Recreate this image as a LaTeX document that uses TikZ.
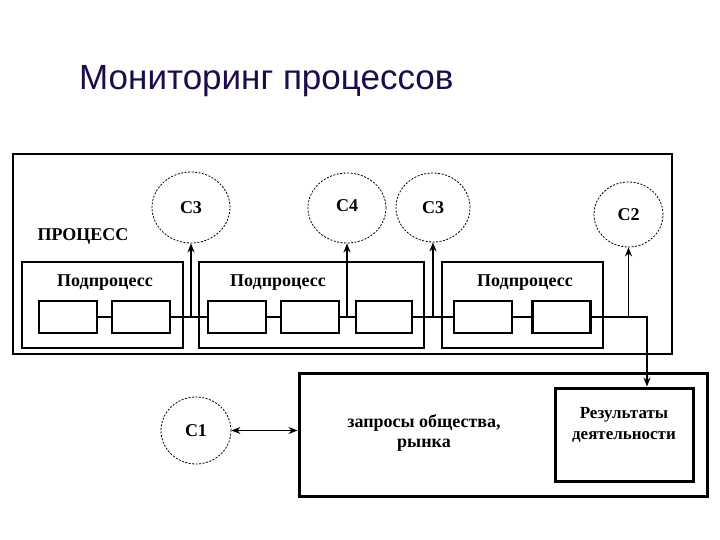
\documentclass[tikz,border=0pt]{standalone}
\usepackage{fontspec}
\setmainfont{Liberation Serif}
\newfontfamily\titlefont{Liberation Sans}
\usetikzlibrary{shapes.geometric,arrows.meta}
\definecolor{titlecol}{HTML}{1E0B4B}
\tikzset{
  lbl/.style={font=\fontsize{18}{20}\selectfont\bfseries, inner sep=0pt, align=center},
  circ/.style={ellipse, draw, line width=0.8pt, dash pattern=on 2pt off 1.5pt, inner sep=0pt, font=\fontsize{18}{20}\selectfont\bfseries},
  subbox/.style={draw, line width=1.5pt, inner sep=0pt},
  smallbox/.style={draw, line width=2.8pt, minimum width=58pt, minimum height=32pt, inner sep=0pt},
  bigbox/.style={draw, line width=3pt, inner sep=0pt},
  conn/.style={line width=1.2pt},
  tip/.style={-{Stealth[length=9pt,width=7pt]}},
  arr/.style={line width=1.8pt, tip},
  darr/.style={line width=1.3pt, {Stealth[length=9pt,width=7pt]}-{Stealth[length=9pt,width=7pt]}}
}
\begin{document}
\begin{tikzpicture}[x=1pt,y=-1pt]
\useasboundingbox (0,0) rectangle (720,540);
\fill[white] (0,0) rectangle (720,540);

% title
\node[anchor=base west, inner sep=0pt, text=titlecol, font=\titlefont\fontsize{35}{40}\selectfont] (title) at (79,90) {Мониторинг процессов};

% outer process box
\node[draw, line width=2.5pt, minimum width=659pt, minimum height=200pt, inner sep=0pt] (proc) at (342.5,254) {};
\node[lbl] (proclbl) at (83,236) {ПРОЦЕСС};

% subprocess boxes
\node[subbox, minimum width=161pt, minimum height=86pt] (sub1) at (102.5,305) {};
\node[subbox, minimum width=225pt, minimum height=86pt] (sub2) at (311.5,305) {};
\node[subbox, minimum width=161pt, minimum height=86pt] (sub3) at (522.5,305) {};
\node[lbl] (sub1lbl) at (105,283) {Подпроцесс};
\node[lbl] (sub2lbl) at (278,283) {Подпроцесс};
\node[lbl] (sub3lbl) at (525,283) {Подпроцесс};

% small boxes
\node[smallbox, fill=white] (b1) at (68,317) {};
\node[smallbox, fill=white] (b2) at (141,317) {};
\node[smallbox, fill=white] (b3) at (237,317) {};
\node[smallbox, fill=white] (b4) at (310,317) {};
\node[smallbox, fill=white, minimum width=56pt] (b5) at (384,317) {};
\node[smallbox, fill=white] (b6) at (483,317) {};
\node[smallbox, fill=white] (b7) at (561.5,317) {};

% circles
\node[circ, minimum width=78pt, minimum height=71pt] (c3a) at (191,207.5) {C3};
\node[circ, minimum width=78pt, minimum height=70pt] (c4) at (347,208) {\raisebox{4pt}{C4}};
\node[circ, minimum width=74pt, minimum height=69pt] (c3b) at (433,207.5) {C3};
\node[circ, minimum width=69pt, minimum height=65pt] (c2) at (628.5,214.5) {C2};
\node[circ, minimum width=70pt, minimum height=67pt] (c1) at (196,430.5) {C1};

% bottom boxes
\node[bigbox, minimum width=408pt, minimum height=123pt] (market) at (503,434.5) {};
\node[lbl] (marketlbl) at (424,433) {запросы общества,\\рынка};
\node[bigbox, minimum width=138pt, minimum height=93pt] (res) at (624,434.5) {};
\node[lbl, font=\fontsize{17}{21}\selectfont\bfseries] (reslbl) at (624,424.5) {Результаты\\деятельности};

% chain line
\coordinate (turn) at (647,317);
\draw[conn] (b1.east) -- (b2.west) (b2.east) -- (b3.west) (b3.east) -- (b4.west)
  (b4.east) -- (b5.west) (b5.east) -- (b6.west) (b6.east) -- (b7.west);
\draw[conn, line width=1.5pt, tip] (b7.east) -- (turn) -- (turn |- res.north);

% arrows to circles
\draw[arr] (c3a |- b2) -- (c3a.south);
\draw[arr] (c4 |- b4) -- (c4.south);
\draw[arr] (c3b |- b5) -- (c3b.south);
\draw[arr] (c2 |- b7) -- (c2.south);

% C1 <-> market
\draw[darr] (c1.east) -- (c1.east -| market.west);
\end{tikzpicture}
\end{document}
